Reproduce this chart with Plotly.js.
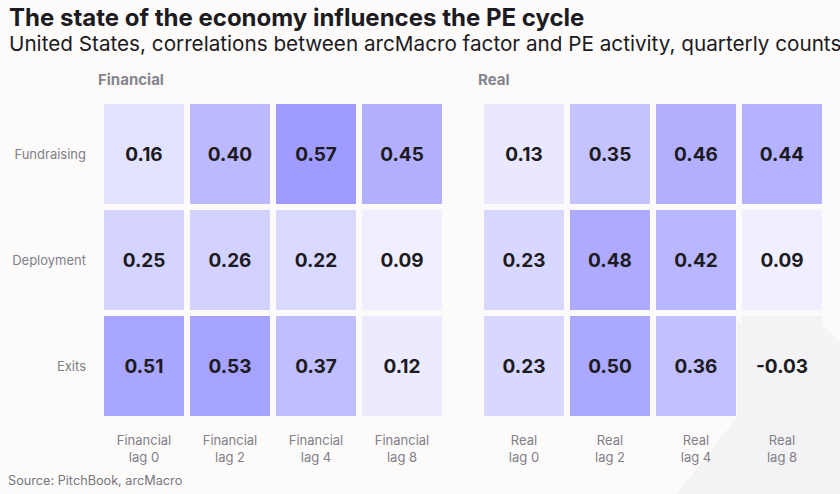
<!DOCTYPE html>
<html><head><meta charset="utf-8">
<script src="https://cdn.plot.ly/plotly-3.0.1.min.js"></script>
<style>html,body{margin:0;padding:0;background:#fdfafa;}#chart{width:840px;height:494px;}</style>
</head><body><div id="chart"></div>
<script>
const rows = ['Fundraising', 'Deployment', 'Exits'];
const finCols = ['Financial<br>lag 0', 'Financial<br>lag 2', 'Financial<br>lag 4', 'Financial<br>lag 8'];
const realCols = ['Real<br>lag 0', 'Real<br>lag 2', 'Real<br>lag 4', 'Real<br>lag 8'];
const financial = [
  [0.16, 0.40, 0.57, 0.45],
  [0.25, 0.26, 0.22, 0.09],
  [0.51, 0.53, 0.37, 0.12]
];
const real = [
  [0.13, 0.35, 0.46, 0.44],
  [0.23, 0.48, 0.42, 0.09],
  [0.23, 0.50, 0.36, -0.03]
];
const titleText = 'The state of the economy influences the PE cycle';
const subtitleText = 'United States, correlations between arcMacro factor and PE activity, quarterly counts';
const sourceText = 'Source: PitchBook, arcMacro';

const cs = [[0, '#f3f2f5'], [0.03/0.63, '#ffffff'], [1, '#9a96ff']];
function hm(z, x, xa) {
  return {
    type: 'heatmap', z: z, x: x, y: rows, xaxis: xa, yaxis: 'y',
    zmin: -0.03, zmax: 0.6, colorscale: cs, showscale: false,
    xgap: 6, ygap: 6,
    text: z.map(r => r.map(v => v.toFixed(2))),
    texttemplate: '%{text}',
    textfont: {family: 'Inter, sans-serif', size: 19, color: '#1c1b22', weight: 700},
    hoverinfo: 'skip'
  };
}
const lblFont = {family: 'Inter, sans-serif', size: 13, color: '#808088'};
const layout = {
  width: 840, height: 494,
  margin: {l: 0, r: 0, t: 0, b: 0},
  paper_bgcolor: '#fdfafa', plot_bgcolor: 'rgba(0,0,0,0)',
  showlegend: false,
  xaxis: {domain: [101/840, 445/840], anchor: 'y', showgrid: false, zeroline: false, showline: false,
          ticks: '', tickfont: lblFont, ticklabelstandoff: 12, fixedrange: true},
  xaxis2: {domain: [481/840, 825/840], anchor: 'y', showgrid: false, zeroline: false, showline: false,
          ticks: '', tickfont: lblFont, ticklabelstandoff: 12, fixedrange: true},
  yaxis: {domain: [1-419/494, 1-101/494], anchor: 'x', autorange: 'reversed', showgrid: false, zeroline: false,
          showline: false, ticks: '', tickfont: lblFont, ticklabelstandoff: 14, fixedrange: true},
  shapes: [{
    type: 'path', xref: 'paper', yref: 'paper', layer: 'below', line: {width: 0}, fillcolor: '#f3f2f4',
    path: 'M 0.8774,' + (1-323/494) + ' L 0.9762,' + (1-323/494) + ' L 1,' + (1-343/494) + ' L 1,0 L 0.806,0 L 0.8774,' + (1-417/494) + ' Z'
  }],
  annotations: [
    {text: '<b>' + titleText + '</b>', xref: 'paper', yref: 'paper', x: 7/840, y: 1-1/494, xanchor: 'left', yanchor: 'top',
     showarrow: false, font: {family: 'Inter, sans-serif', size: 24, color: '#1c1b22'}},
    {text: subtitleText, xref: 'paper', yref: 'paper', x: 7/840, y: 1-29/494, xanchor: 'left', yanchor: 'top',
     showarrow: false, font: {family: 'Inter, sans-serif', size: 20.7, color: '#1c1b22'}},
    {text: '<b>Financial</b>', xref: 'paper', yref: 'paper', x: 96/840, y: 1-79/494, xanchor: 'left', yanchor: 'middle',
     showarrow: false, font: {family: 'Inter, sans-serif', size: 15, color: '#858590'}},
    {text: '<b>Real</b>', xref: 'paper', yref: 'paper', x: 476/840, y: 1-79/494, xanchor: 'left', yanchor: 'middle',
     showarrow: false, font: {family: 'Inter, sans-serif', size: 15, color: '#858590'}},
    {text: sourceText, xref: 'paper', yref: 'paper', x: 6/840, y: 1-480/494, xanchor: 'left', yanchor: 'middle',
     showarrow: false, font: {family: 'Inter, sans-serif', size: 12.7, color: '#77777f'}}
  ]
};
Plotly.newPlot('chart', [hm(financial, finCols, 'x'), hm(real, realCols, 'x2')], layout, {displayModeBar: false, staticPlot: true});
</script></body></html>
